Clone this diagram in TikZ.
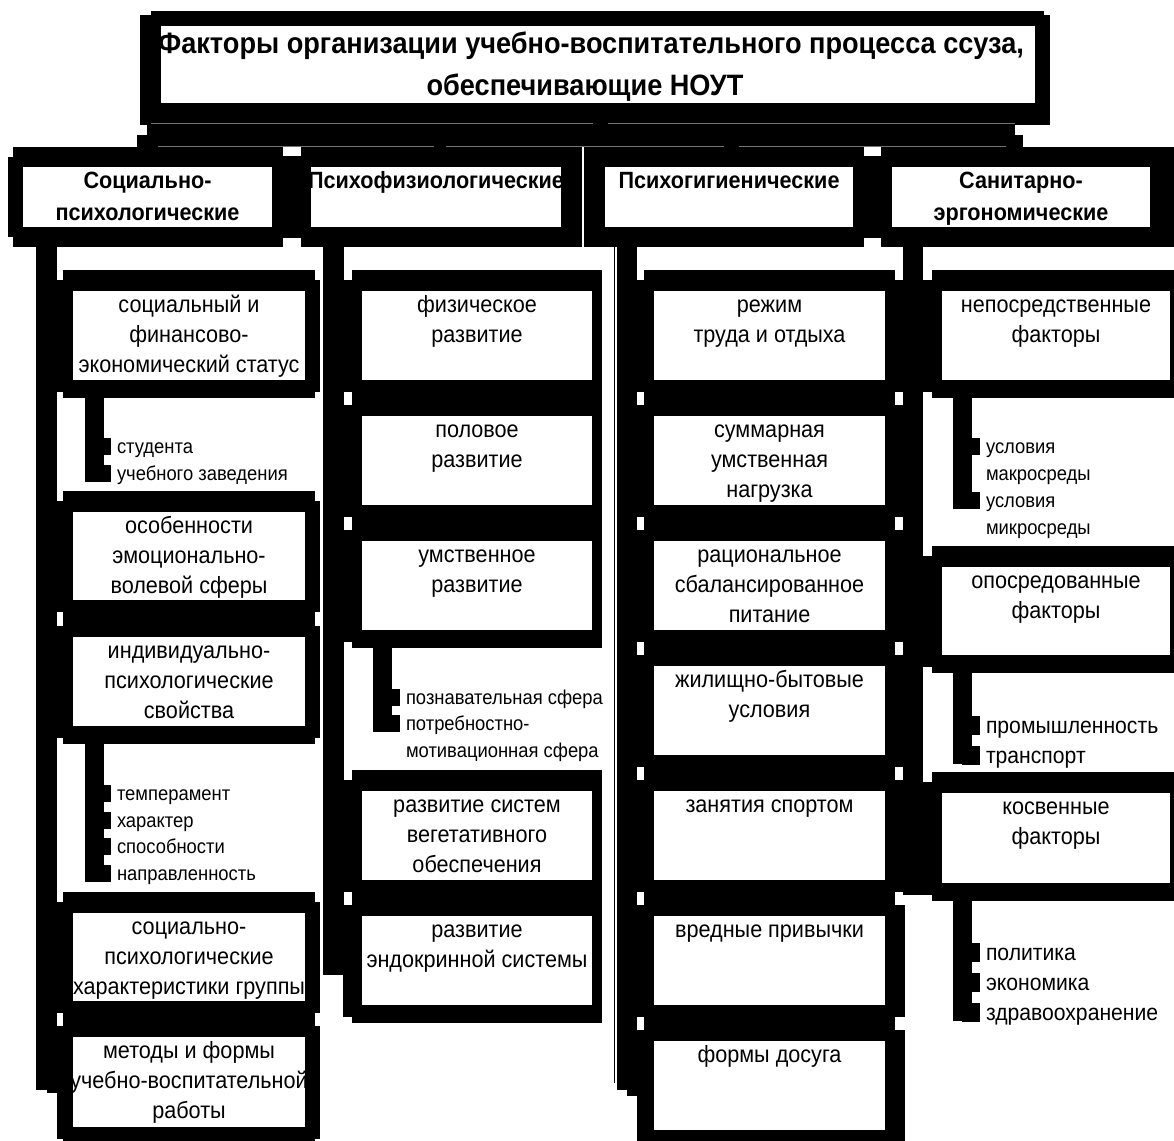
\documentclass[tikz,border=0pt]{standalone}
\usepackage{fontspec}
\setmainfont[FakeStretch=0.92]{Liberation Sans}
\usetikzlibrary{backgrounds}
\newcommand\cl[1]{\makebox[0pt]{#1}}
\newcommand\bodyf{\fontsize{23.5pt}{30pt}\selectfont}
\newcommand\catf{\fontsize{23.5pt}{32pt}\selectfont\bfseries}
\newcommand\titf{\fontsize{29.5pt}{42pt}\selectfont\bfseries}
\newcommand\smf{\fontsize{20pt}{27pt}\selectfont}
\newcommand\midf{\fontsize{23pt}{30pt}\selectfont}
% width, height, font, first-baseline, lines
\newcommand\bxt[5]{\parbox[t][#2][t]{#1}{\centering #3\rule{0pt}{#4}#5}}
% black frame of a box: horizontal part and vertical part (notched corners)
\newcommand\frameit[3]{%
  \fill ([shift={(-10,-21)}]#1.north west) rectangle ([shift={(10,18)}]#1.south east);
  \fill ([shift={(-#2,-11)}]#1.north west) rectangle ([shift={(#3,12)}]#1.south east);}
\tikzset{
  inbox/.style={fill=white, inner sep=0pt, outer sep=0pt, anchor=north west},
  trunk/.style={line width=21pt},
  sbar/.style={line width=19pt},
  mk/.style={line width=17pt, shorten >=6pt},
  hair/.style={line width=1.2pt, draw=black!55},
  item/.style={anchor=base west, inner sep=0pt, outer sep=0pt, font=\smf},
  itemL/.style={anchor=base west, inner sep=0pt, outer sep=0pt, font=\midf},
}
\begin{document}
\begin{tikzpicture}[x=1pt,y=-1pt]
\useasboundingbox (0,0) rectangle (1174,1140);

% ---------- title and categories
\node[inbox] (title) at (161,26) {\bxt{874pt}{77pt}{\titf}{28pt}{\hspace*{-14pt}\cl{Факторы организации учебно-воспитательного процесса ссуза,}\\\hspace*{-26pt}\cl{обеспечивающие НОУТ}}};
\node[inbox] (c1) at (23,167) {\bxt{249pt}{60pt}{\catf}{21pt}{\cl{Социально-}\\\cl{психологические}}};
\node[inbox] (c2) at (311,167) {\bxt{250pt}{60pt}{\catf}{21pt}{\cl{Психофизиологические}}};
\node[inbox] (c3) at (605,167) {\bxt{248pt}{60pt}{\catf}{21pt}{\cl{Психогигиенические}}};
\node[inbox] (c4) at (892,167) {\bxt{258pt}{60pt}{\catf}{21pt}{\cl{Санитарно-}\\\cl{эргономические}}};

% ---------- column 1
\node[inbox] (a1) at (73,291) {\bxt{232pt}{89pt}{\bodyf}{21pt}{\cl{социальный и}\\\cl{финансово-}\\\cl{экономический статус}}};
\node[inbox] (a2) at (73,512) {\bxt{232pt}{88pt}{\bodyf}{21pt}{\cl{особенности}\\\cl{эмоционально-}\\\cl{волевой сферы}}};
\node[inbox] (a3) at (73,637) {\bxt{232pt}{89pt}{\bodyf}{21pt}{\cl{индивидуально-}\\\cl{психологические}\\\cl{свойства}}};
\node[inbox] (a4) at (73,913) {\bxt{232pt}{88pt}{\bodyf}{21pt}{\cl{социально-}\\\cl{психологические}\\\cl{характеристики группы}}};
\node[inbox] (a5) at (73,1037) {\bxt{232pt}{90pt}{\bodyf}{21pt}{\cl{методы и формы}\\\cl{учебно-воспитательной}\\\cl{работы}}};

% ---------- column 2
\node[inbox] (b1) at (362,291) {\bxt{230pt}{89pt}{\bodyf}{21pt}{\cl{физическое}\\\cl{развитие}}};
\node[inbox] (b2) at (362,416) {\bxt{230pt}{89pt}{\bodyf}{21pt}{\cl{половое}\\\cl{развитие}}};
\node[inbox] (b3) at (362,541) {\bxt{230pt}{89pt}{\bodyf}{21pt}{\cl{умственное}\\\cl{развитие}}};
\node[inbox] (b4) at (362,791) {\bxt{230pt}{89pt}{\bodyf}{21pt}{\cl{развитие систем}\\\cl{вегетативного}\\\cl{обеспечения}}};
\node[inbox] (b5) at (362,916) {\bxt{230pt}{89pt}{\bodyf}{21pt}{\cl{развитие}\\\cl{эндокринной системы}}};

% ---------- column 3
\node[inbox] (d1) at (654,291) {\bxt{231pt}{89pt}{\bodyf}{21pt}{\cl{режим}\\\cl{труда и отдыха}}};
\node[inbox] (d2) at (654,416) {\bxt{231pt}{89pt}{\bodyf}{21pt}{\cl{суммарная}\\\cl{умственная}\\\cl{нагрузка}}};
\node[inbox] (d3) at (654,541) {\bxt{231pt}{89pt}{\bodyf}{21pt}{\cl{рациональное}\\\cl{сбалансированное}\\\cl{питание}}};
\node[inbox] (d4) at (654,666) {\bxt{231pt}{89pt}{\bodyf}{21pt}{\cl{жилищно-бытовые}\\\cl{условия}}};
\node[inbox] (d5) at (654,791) {\bxt{231pt}{89pt}{\bodyf}{21pt}{\cl{занятия спортом}}};
\node[inbox] (d6) at (654,916) {\bxt{231pt}{89pt}{\bodyf}{21pt}{\cl{вредные привычки}}};
\node[inbox] (d7) at (654,1041) {\bxt{231pt}{89pt}{\bodyf}{21pt}{\cl{формы досуга}}};

% ---------- column 4
\node[inbox] (e1) at (942,291) {\bxt{228pt}{89pt}{\bodyf}{21pt}{\cl{непосредственные}\\\cl{факторы}}};
\node[inbox] (e2) at (942,567) {\bxt{228pt}{88pt}{\bodyf}{21pt}{\cl{опосредованные}\\\cl{факторы}}};
\node[inbox] (e3) at (942,793) {\bxt{228pt}{90pt}{\bodyf}{21pt}{\cl{косвенные}\\\cl{факторы}}};

% ---------- sub-list items
\node[item] (sa1) at (117,453) {студента};
\node[item] (sa2) at (117,480) {учебного заведения};
\node[item] (sb1) at (117,800) {темперамент};
\node[item] (sb2) at (117,827) {характер};
\node[item] (sb3) at (117,853) {способности};
\node[item] (sb4) at (117,880) {направленность};
\node[item] (sc1) at (406,704) {познавательная сфера};
\node[item] (sc2) at (406,730) {\parbox[t]{230pt}{\raggedright\smf потребностно-\\мотивационная сфера}};
\node[item] (sd1) at (986,453) {\parbox[t]{180pt}{\raggedright\smf условия\\макросреды}};
\node[item] (sd2) at (986,507) {\parbox[t]{180pt}{\raggedright\smf условия\\микросреды}};
\node[itemL] (se1) at (986,733) {промышленность};
\node[itemL] (se2) at (986,763) {транспорт};
\node[itemL] (sf1) at (986,960) {политика};
\node[itemL] (sf2) at (986,990) {экономика};
\node[itemL] (sf3) at (986,1020) {здравоохранение};

% ---------- background: page, frames, band
\begin{scope}[on background layer]
\fill[white] (0,0) rectangle (1174,1140);
\fill ([shift={(-10,-15)}]title.north west) rectangle ([shift={(9,22)}]title.south east);
\fill ([shift={(-21,-11)}]title.north west) rectangle ([shift={(15,22)}]title.south east);
\fill (147,118) rectangle (1015,147);
\fill (137,135) rectangle (1023,148);
\fill (13,147) rectangle (1180,247);
\fill (8,157) rectangle (20,237);
\fill[white] (283,147) rectangle (301,156);
\fill[white] (283,238) rectangle (301,247);
\fill[white] (864,147) rectangle (881,156);
\fill[white] (864,238) rectangle (881,247);
\fill[white] (582,147) rectangle (584,247);
\foreach \n in {a1,a2,a3,a4,a5} {\frameit{\n}{16}{15}}
\foreach \n in {b1,b2,b3,b4,b5} {\frameit{\n}{19}{10}}
\foreach \n in {d1,d2,d3,d4,d5,d6,d7} {\frameit{\n}{17}{20}}
\foreach \n in {e1,e2,e3} {\frameit{\n}{19}{10}}
% faint original connector lines showing through the black band
\draw[hair] (151,123.5) -- (593,123.5) (608,123.5) -- (1015,123.5);
\draw[hair] (158,146.5) -- (434,146.5) (446,146.5) -- (724,146.5) (739,146.5) -- (1006,146.5);
\end{scope}

% ---------- trunks (category -> children)
\coordinate (t1) at (46.5,1090);
\coordinate (t2) at (333,975);
\coordinate (t3) at (627,1090);
\coordinate (t4) at (913,895);
\coordinate (hl) at (614.5,1083);
\draw[trunk] (c1.south -| t1) -- (t1);
\draw[trunk] (c2.south -| t2) -- (t2);
\draw[trunk, line width=20pt] (c3.south -| t3) -- (t3);
\draw[trunk, line width=20pt] (c4.south -| t4) -- (t4);
\draw[line width=1.3pt] ([yshift=-20pt]c3.south -| hl) -- (hl);
\foreach \n in {a1,a2,a3,a4,a5} {\draw[trunk] (\n.west -| t1) -- (\n.west);}
\foreach \n in {b1,b2,b3,b4,b5} {\draw[trunk] (\n.west -| t2) -- (\n.west);}
\foreach \n in {d1,d2,d3,d4,d5,d6,d7} {\draw[trunk] (\n.west -| t3) -- (\n.west);}
\foreach \n in {e1,e2,e3} {\draw[trunk] (\n.west -| t4) -- (\n.west);}

% ---------- sub-list bars and markers
\coordinate (xa) at (94.5,0);
\coordinate (xc) at (382,0);
\coordinate (xd) at (962,0);
\foreach \s in {sa1,sa2,sb1,sb2,sb3,sb4,sc1,sc2,sd1,sd2}
  {\coordinate (m\s) at ([yshift=6.5pt]\s.base west);}
\foreach \s in {se1,se2,sf1,sf2,sf3}
  {\coordinate (m\s) at ([yshift=8pt]\s.base west);}
\draw[sbar, shorten >=-8.5pt] (a1.south -| xa) -- (msa2 -| xa);
\draw[sbar, shorten >=-8.5pt] (a3.south -| xa) -- (msb4 -| xa);
\draw[sbar, shorten >=-8.5pt] (b3.south -| xc) -- (msc2 -| xc);
\draw[sbar, shorten >=-8.5pt] (e1.south -| xd) -- (msd2 -| xd);
\draw[sbar, shorten >=-9pt] (e2.south -| xd) -- (mse2 -| xd);
\draw[sbar, shorten >=-9pt] (e3.south -| xd) -- (msf3 -| xd);
\foreach \s in {sa1,sa2,sb1,sb2,sb3,sb4} {\draw[mk] (m\s -| xa) -- (m\s);}
\foreach \s in {sc1,sc2} {\draw[mk] (m\s -| xc) -- (m\s);}
\foreach \s in {sd1,sd2} {\draw[mk] (m\s -| xd) -- (m\s);}
\foreach \s in {se1,se2,sf1,sf2,sf3} {\draw[mk, line width=19pt] (m\s -| xd) -- (m\s);}
\end{tikzpicture}
\end{document}
